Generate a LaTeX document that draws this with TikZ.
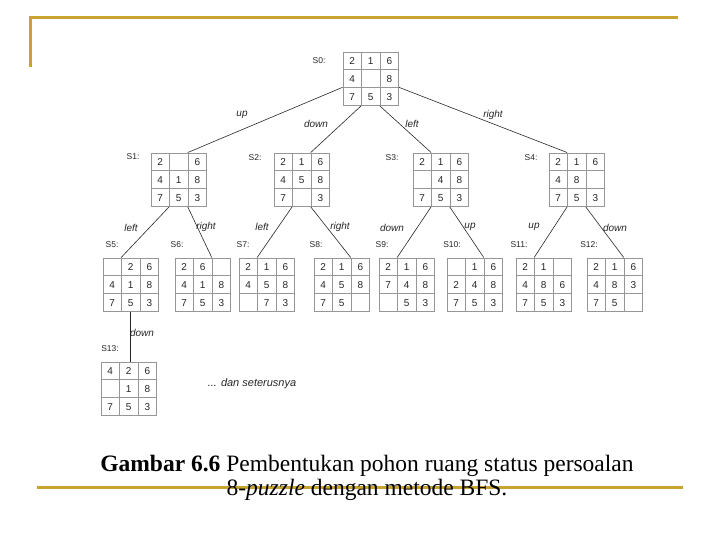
\documentclass[tikz,border=0pt]{standalone}
\usepackage{fontspec}
\setmainfont{Liberation Serif}
\newfontfamily\arialf{Liberation Sans}
\usetikzlibrary{matrix}
\definecolor{gold}{RGB}{201,163,48}
\definecolor{gridc}{RGB}{150,150,150}
\begin{document}
\begin{tikzpicture}[x=1pt,y=-1pt,
  pz/.style={matrix of nodes, nodes in empty cells, column sep=-0.6pt, row sep=-0.6pt, anchor=north west,
    nodes={draw=gridc, line width=0.6pt, minimum width=18.6pt, minimum height=17.9pt, inner sep=0pt,
      text height=7.3pt, text depth=0pt, anchor=center,
      font=\arialf\fontsize{10}{10}\selectfont, text=black!85}},
  slab/.style={font=\arialf\fontsize{8.5}{9}\selectfont, text=black!85},
  elab/.style={font=\arialf\itshape\fontsize{10}{11}\selectfont, text=black!85},
  edgeline/.style={draw=black!85, line width=0.6pt},
  goldline/.style={draw=gold, line width=3pt}]
\useasboundingbox (0,0) rectangle (720,540);
% frame lines
\draw[goldline] (28.5,18) -- (678,18);
\draw[goldline] (30,16.5) -- (30,67);
\draw[goldline] (37,487) -- (683,487);
% level 0
\matrix (s0) [pz] at (339,48) { 2 & 1 & 6 \\ 4 & & 8 \\ 7 & 5 & 3 \\ };
% level 1
\matrix (s1) [pz] at (147,149) { 2 & & 6 \\ 4 & 1 & 8 \\ 7 & 5 & 3 \\ };
\matrix (s2) [pz] at (270,149) { 2 & 1 & 6 \\ 4 & 5 & 8 \\ 7 & & 3 \\ };
\matrix (s3) [pz] at (409,149) { 2 & 1 & 6 \\ & 4 & 8 \\ 7 & 5 & 3 \\ };
\matrix (s4) [pz] at (545,149) { 2 & 1 & 6 \\ 4 & 8 & \\ 7 & 5 & 3 \\ };
% level 2
\matrix (s5) [pz] at (99,254) { & 2 & 6 \\ 4 & 1 & 8 \\ 7 & 5 & 3 \\ };
\matrix (s6) [pz] at (171,254) { 2 & 6 & \\ 4 & 1 & 8 \\ 7 & 5 & 3 \\ };
\matrix (s7) [pz] at (235,254) { 2 & 1 & 6 \\ 4 & 5 & 8 \\ & 7 & 3 \\ };
\matrix (s8) [pz] at (310,254) { 2 & 1 & 6 \\ 4 & 5 & 8 \\ 7 & 5 & \\ };
\matrix (s9) [pz] at (375,254) { 2 & 1 & 6 \\ 7 & 4 & 8 \\ & 5 & 3 \\ };
\matrix (s10) [pz] at (443,254) { & 1 & 6 \\ 2 & 4 & 8 \\ 7 & 5 & 3 \\ };
\matrix (s11) [pz] at (512,254) { 2 & 1 & \\ 4 & 8 & 6 \\ 7 & 5 & 3 \\ };
\matrix (s12) [pz] at (583,254) { 2 & 1 & 6 \\ 4 & 8 & 3 \\ 7 & 5 & \\ };
% level 3
\matrix (s13) [pz] at (97,358) { 4 & 2 & 6 \\ & 1 & 8 \\ 7 & 5 & 3 \\ };
% state labels
\node[slab] (l0) at (319,61) {S0:};
\node[slab] (l1) at (133,157) {S1:};
\node[slab] (l2) at (255,158) {S2:};
\node[slab] (l3) at (392,158) {S3:};
\node[slab] (l4) at (531,158) {S4:};
\node[slab] (l5) at (112,245) {S5:};
\node[slab] (l6) at (177,245) {S6:};
\node[slab] (l7) at (243,245) {S7:};
\node[slab] (l8) at (316,245) {S8:};
\node[slab] (l9) at (382,245) {S9:};
\node[slab] (l10) at (452,245) {S10:};
\node[slab] (l11) at (519,245) {S11:};
\node[slab] (l12) at (589,245) {S12:};
\node[slab] (l13) at (110,349) {S13:};
% connectors
\draw[edgeline] (s0-3-1.north west) -- (s1-1-3.north west);
\draw[edgeline] (s0-3-2.south west) -- (s2-1-3.north west);
\draw[edgeline] (s0-3-3.south west) -- (s3-1-2.north west);
\draw[edgeline] (s0-3-3.north east) -- (s4-1-2.north west);
\draw[edgeline] (s1-3-2.south west) -- (s5-1-2.north west);
\draw[edgeline] (s1-3-3.south west) -- (s6-1-3.north west);
\draw[edgeline] (s2-3-2.south west) -- (s7-1-2.north west);
\draw[edgeline] (s2-3-3.south west) -- (s8-1-3.north west);
\draw[edgeline] (s3-3-2.south west) -- (s9-1-2.north west);
\draw[edgeline] (s3-3-3.south west) -- (s10-1-3.north west);
\draw[edgeline] (s4-3-2.south west) -- (s11-1-2.north west);
\draw[edgeline] (s4-3-3.south west) -- (s12-1-3.north west);
\draw[edgeline] (s5-3-2.south) -- (s5-3-2.south |- s13-1-2.north);
% edge labels
\node[elab] (e1) at (242,115) {up};
\node[elab] (e2) at (316,124) {down};
\node[elab] (e3) at (412,124) {left};
\node[elab] (e4) at (493,115) {right};
\node[elab] (e5) at (131,228) {left};
\node[elab] (e6) at (206,227) {right};
\node[elab] (e7) at (262,227) {left};
\node[elab] (e8) at (340,227) {right};
\node[elab] (e9) at (392,228) {down};
\node[elab] (e10) at (470,227) {up};
\node[elab] (e11) at (534,227) {up};
\node[elab] (e12) at (615,228) {down};
\node[elab] (e13) at (142,333) {down};
\node[elab, font=\arialf\itshape\fontsize{11}{12}\selectfont] (etc) at (252,384) {... dan seterusnya};
% caption
\node[anchor=base, font=\fontsize{23.5}{25}\selectfont, inner sep=0pt] (cap1) at (367,471) {\textbf{Gambar 6.6} Pembentukan pohon ruang status persoalan};
\node[anchor=base, font=\fontsize{23.5}{25}\selectfont, inner sep=0pt] (cap2) at (367,495) {8-\textit{puzzle} dengan metode BFS.};
\end{tikzpicture}
\end{document}
